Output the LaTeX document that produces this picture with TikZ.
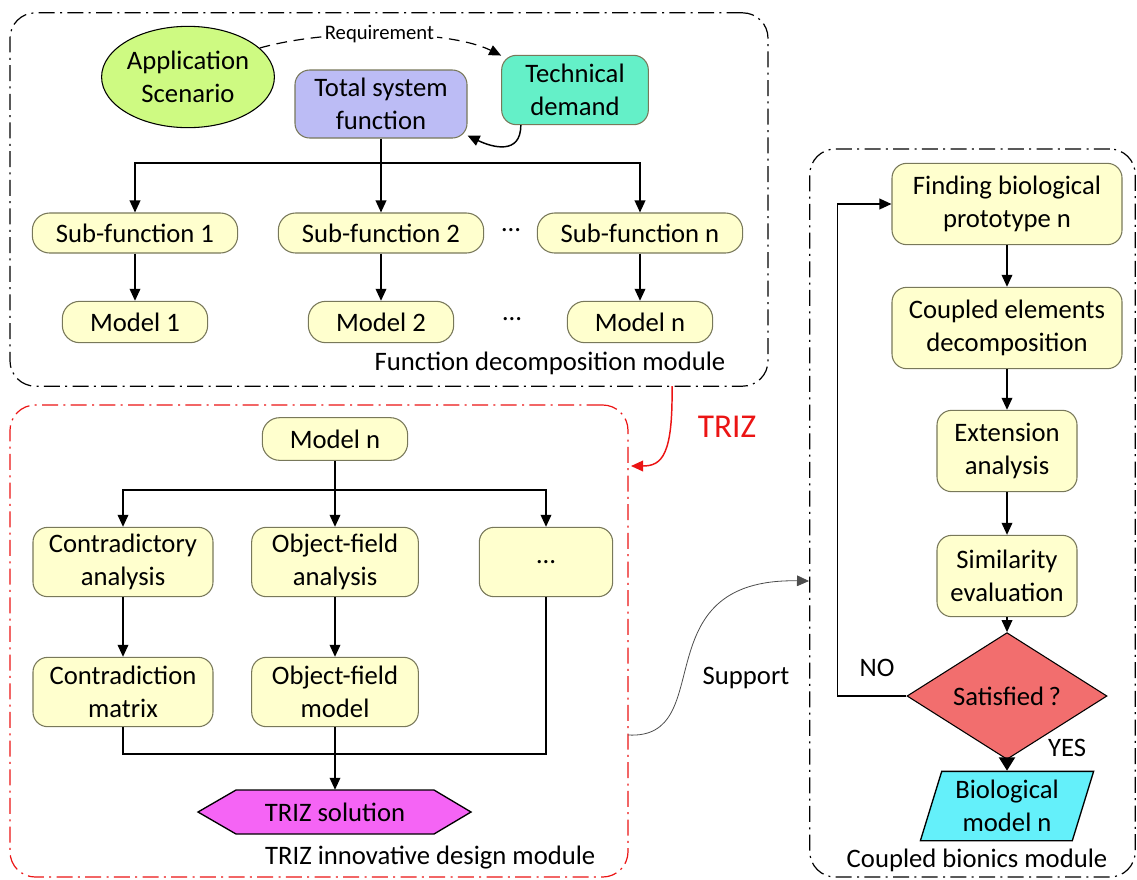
\documentclass[tikz,border=0pt]{standalone}
\usepackage{fontspec}
\setmainfont{Carlito}
\usetikzlibrary{positioning, arrows.meta, calc, shapes.geometric}

\definecolor{boxfill}{RGB}{255,255,206}
\definecolor{boxline}{RGB}{120,120,90}
\definecolor{scenefill}{RGB}{206,250,130}
\definecolor{demandfill}{RGB}{100,240,200}
\definecolor{totalfill}{RGB}{188,188,245}
\definecolor{satfill}{RGB}{242,110,110}
\definecolor{biofill}{RGB}{100,240,250}
\definecolor{trizfill}{RGB}{245,100,245}
\definecolor{trizred}{RGB}{235,20,20}

\begin{document}
\begin{tikzpicture}[
    x=0.75pt, y=0.75pt,
    every node/.style={font=\fontsize{20}{25}\selectfont},
    block/.style={rectangle, draw=boxline, fill=boxfill, rounded corners=11pt, align=center, inner sep=0pt, line width=0.8pt},
    pill/.style={block, rounded corners=13pt},
    subfn/.style={pill, minimum width=154pt, minimum height=30pt},
    model/.style={pill, minimum width=109pt, minimum height=31pt},
    module/.style={draw, rounded corners=19pt, line width=0.9pt, dash pattern=on 12pt off 4pt on 1.5pt off 4pt, inner sep=0pt},
    arrow/.style={-{Triangle[length=9pt, width=8pt]}, line width=1.1pt},
    bigarrow/.style={-{Triangle[length=10pt, width=12pt]}, line width=1.6pt},
    link/.style={line width=1.1pt},
]
\useasboundingbox (0,0) rectangle (1137,-879);

% Module frames
\node[module, minimum width=568.5pt, minimum height=280pt] (fdm) at (389,-199.5) {};
\node[module, draw=trizred, minimum width=463.5pt, minimum height=354pt] (tdm) at (319,-641) {};
\node[module, minimum width=244pt, minimum height=546pt] (cbm) at (972.5,-513) {};

\node[anchor=base east] (fdmlabel) at (730,-370) {Function decomposition module};
\node[anchor=base east] (tdmlabel) at (600,-864) {TRIZ innovative design module};
\node[anchor=base] (cbmlabel) at (977,-867) {Coupled bionics module};

% Function decomposition
\node[ellipse, draw, fill=scenefill, line width=0.8pt, minimum width=114pt, minimum height=76pt, inner sep=0pt, align=center] (scene) at (188,-77) {Application\\Scenario};
\node[block, fill=demandfill, minimum width=110pt, minimum height=52pt] (demand) at (575,-90) {Technical\\demand};
\node[block, fill=totalfill, minimum width=129pt, minimum height=51pt] (total) at (381,-104) {Total system\\function};

\node[subfn] (sub1) at (135,-233) {Sub-function 1};
\node[subfn] (sub2) at (381,-233) {Sub-function 2};
\node[subfn] (subn) at (640,-233) {Sub-function n};
\node (subdots) at (511,-230) {\dots};

\node[model] (mod1) at (135,-322) {Model 1};
\node[model] (mod2) at (381,-322) {Model 2};
\node[model] (modn) at (640,-322) {Model n};
\node (moddots) at (512,-319) {\dots};

\coordinate (fork1) at (381,-163);

% TRIZ innovative design
\node[model, minimum height=32pt] (mn) at (335,-439) {Model n};
\node[block, minimum width=135pt, minimum height=52pt] (contra) at (123,-562) {Contradictory\\analysis};
\node[block, minimum width=125pt, minimum height=52pt] (ofa) at (335,-562) {Object-field\\analysis};
\node[block, minimum width=100pt, minimum height=52pt] (more) at (546,-562) {\dots};
\node[block, minimum width=135pt, minimum height=52pt] (cmat) at (123,-692) {Contradiction\\matrix};
\node[block, minimum width=125pt, minimum height=52pt] (ofm) at (335,-692) {Object-field\\model};
% hexagon behind the solution node
\draw[fill=trizfill, line width=1pt] (198,-812) -- (236,-790) -- (434,-790) -- (471,-812) -- (434,-834) -- (236,-834) -- cycle;
\node[minimum width=205pt, minimum height=33pt, inner sep=0pt] (triz) at (335,-812) {TRIZ solution};

\coordinate (fork2) at (335,-490);
\coordinate (join) at (335,-754);

% Coupled bionics
\node[block, minimum width=172.5pt, minimum height=61pt] (find) at (1007,-204) {Finding biological\\prototype n};
\node[block, minimum width=172.5pt, minimum height=61pt] (couple) at (1007,-328) {Coupled elements\\decomposition};
\node[block, minimum width=105pt, minimum height=61pt] (ext) at (1007,-451) {Extension\\analysis};
\node[block, minimum width=105pt, minimum height=61pt] (sim) at (1007,-576) {Similarity\\evaluation};
\node[diamond, draw, fill=satfill, line width=0.8pt, minimum width=150pt, minimum height=52.5pt, inner sep=0pt] (sat) at (1007,-696) {Satisfied\,?};
\node[trapezium, trapezium left angle=72, trapezium right angle=108, trapezium stretches=true, draw, fill=biofill, line width=1pt, minimum width=130pt, minimum height=52pt, inner sep=0pt, align=center] (bio) at (1007,-806) {Biological\\model n};
\node (no) at (877,-668) {NO};
\node (yes) at (1067,-748) {YES};

% Links between modules
\coordinate (trizstart) at (672,-386);
\coordinate (trizend) at (631,-466);
\node[text=trizred, font=\fontsize{25}{30}\selectfont] (trizlabel) at (727,-427) {TRIZ};
\coordinate (supstart) at (628,-735);
\coordinate (supend) at (809,-581);
\node (support) at (746,-678) {Support};

%% === Arrows ===

% Function decomposition
\draw[-{Triangle[length=9pt, width=8pt]}, line width=0.9pt, dash pattern=on 8pt off 5pt] (scene.22) .. controls (330,-28) and (450,-30) .. node[pos=0.47, fill=white, inner sep=2pt, font=\fontsize{15.5}{18}\selectfont] (req) {Requirement} (demand.155);
\draw[arrow] (demand.-147) .. controls +(0,-30) and +(25,-12) .. (total.-20);
\draw[link] (total) -- (fork1);
\draw[arrow] (fork1) -| (sub1);
\draw[arrow] (fork1) -- (sub2);
\draw[arrow] (fork1) -| (subn);
\draw[arrow] (sub1) -- (mod1);
\draw[arrow] (sub2) -- (mod2);
\draw[arrow] (subn) -- (modn);

% TRIZ innovative design
\draw[link] (mn) -- (fork2);
\draw[arrow] (fork2) -| (contra);
\draw[arrow] (fork2) -- (ofa);
\draw[arrow] (fork2) -| (more);
\draw[arrow] (contra) -- (cmat);
\draw[arrow] (ofa) -- (ofm);
\draw[link] (cmat.south) |- (join) -| (more.south);
\draw[arrow] (ofm) -- (triz);

% Coupled bionics
\draw[arrow] (find) -- (couple);
\draw[arrow] (couple) -- (ext);
\draw[arrow] (ext) -- (sim);
\draw[arrow] (sim) -- (sat);
\draw[bigarrow] (sat) -- (bio);
\draw[arrow] (sat.west) -- ++(-69,0) |- (find.west);

% Between modules
\draw[arrow, trizred] (trizstart) .. controls (673,-455) and (662,-466) .. (trizend);
\draw[-{Triangle[length=9pt, width=8pt]}, line width=0.6pt, draw=black!70] (supstart) .. controls (720,-740) and (640,-578) .. (supend);

\end{tikzpicture}
\end{document}
